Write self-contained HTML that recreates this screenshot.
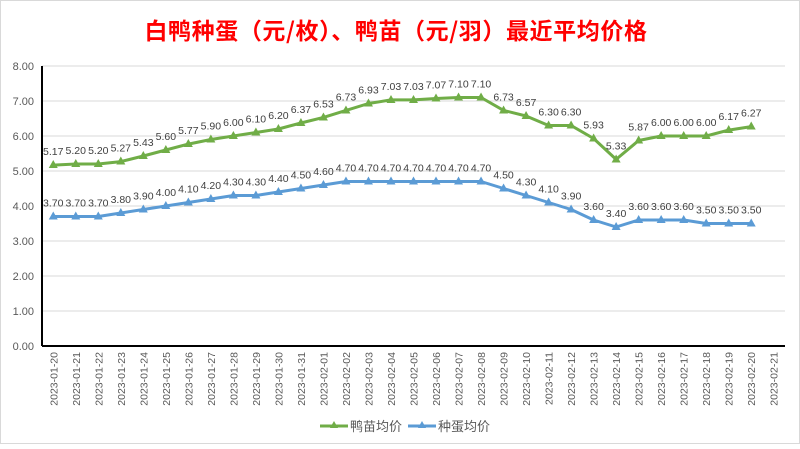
<!DOCTYPE html>
<html><head><meta charset="utf-8"><style>
html,body{margin:0;padding:0;background:#fff}
svg text{font-family:"Liberation Sans","Noto Sans CJK SC",sans-serif}
</style></head><body>
<svg id="c" width="800" height="444" xmlns="http://www.w3.org/2000/svg">
<rect x="0.5" y="0.5" width="799" height="443" fill="#fff" stroke="#d9d9d9"/>
<text x="396" y="39" text-anchor="middle" font-size="23" font-weight="bold" fill="#ff0000" style="font-family:'Noto Sans CJK SC',sans-serif;letter-spacing:0.6px">白鸭种蛋（元/枚）、鸭苗（元/羽）最近平均价格</text>
<g id="g"></g>
<line x1="320" y1="426" x2="348" y2="426" stroke="#70ad47" stroke-width="3"/>
<polygon points="334,421 338,428 330,428" fill="#70ad47"/>
<text x="350" y="431" font-size="13" fill="#595959">鸭苗均价</text>
<line x1="408" y1="426" x2="436" y2="426" stroke="#5b9bd5" stroke-width="3"/>
<polygon points="422,421 426,428 418,428" fill="#5b9bd5"/>
<text x="438" y="431" font-size="13" fill="#595959">种蛋均价</text>
</svg>
<script>
var g=document.getElementById('g'),s='';
var L=42,R=785,Y0=346,U=35,N=33,W=(R-L)/N;
for(var v=0;v<=8;v++){var y=Y0-v*U;
 if(v>0)s+='<line x1="'+L+'" y1="'+y+'" x2="'+R+'" y2="'+y+'" stroke="#d9d9d9"/>';
 s+='<text x="34" y="'+(y+4)+'" text-anchor="end" font-size="11" fill="#595959">'+v.toFixed(2)+'</text>';}
s+='<line x1="'+L+'" y1="66" x2="'+L+'" y2="'+Y0+'" stroke="#000" stroke-width="2"/>';
s+='<line x1="'+L+'" y1="'+Y0+'" x2="'+R+'" y2="'+Y0+'" stroke="#000" stroke-width="2"/>';
function d(i){var t=new Date(Date.UTC(2023,0,20+i));return t.toISOString().slice(0,10);}
for(var i=0;i<N;i++){var x=L+W*(i+0.5);
 s+='<text transform="translate('+(x+4)+',352) rotate(-90)" text-anchor="end" font-size="10.5" fill="#595959">'+d(i)+'</text>';}
var gr=[5.17,5.20,5.20,5.27,5.43,5.60,5.77,5.90,6.00,6.10,6.20,6.37,6.53,6.73,6.93,7.03,7.03,7.07,7.10,7.10,6.73,6.57,6.30,6.30,5.93,5.33,5.87,6.00,6.00,6.00,6.17,6.27];
var bl=[3.70,3.70,3.70,3.80,3.90,4.00,4.10,4.20,4.30,4.30,4.40,4.50,4.60,4.70,4.70,4.70,4.70,4.70,4.70,4.70,4.50,4.30,4.10,3.90,3.60,3.40,3.60,3.60,3.60,3.50,3.50,3.50];
function ser(a,c){var p=[],m='',t='';
 a.forEach(function(v,i){var x=L+W*(i+0.5),y=Y0-v*U;p.push(x.toFixed(1)+','+y.toFixed(1));
 m+='<polygon points="'+x+','+(y-5)+' '+(x+4.5)+','+(y+3)+' '+(x-4.5)+','+(y+3)+'" fill="'+c+'"/>';
 t+='<text x="'+x+'" y="'+(y-10)+'" text-anchor="middle" font-size="10.5" fill="#404040">'+v.toFixed(2)+'</text>';});
 return '<polyline points="'+p.join(' ')+'" fill="none" stroke="'+c+'" stroke-width="3" stroke-linejoin="round"/>'+m+t;}
s+=ser(bl,'#5b9bd5')+ser(gr,'#70ad47');
g.innerHTML=s;
</script>
</body></html>
